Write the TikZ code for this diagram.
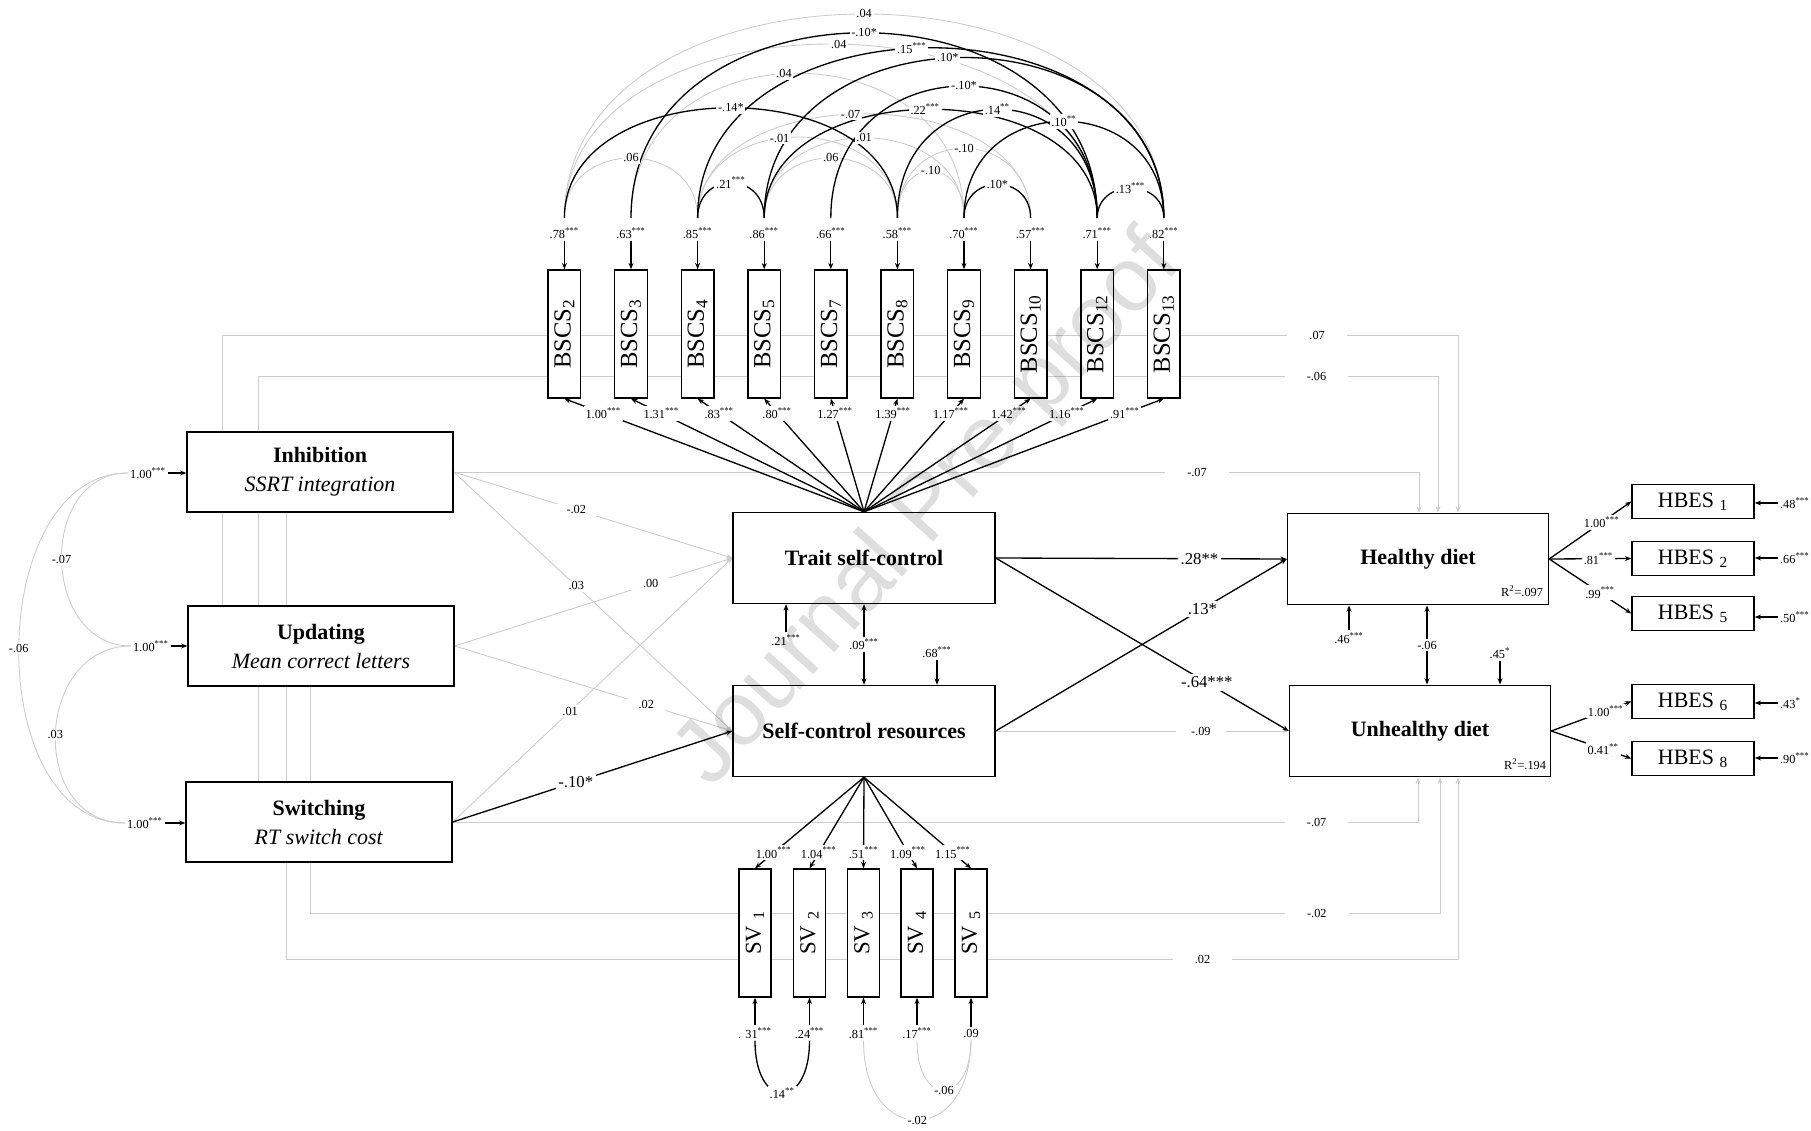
\documentclass[tikz,border=0pt]{standalone}
\usepackage{fontspec}
\setmainfont{Liberation Serif}
\newfontfamily\wmfont{Liberation Sans}
\usepackage{graphicx}
\usetikzlibrary{arrows.meta,positioning,backgrounds}

\newcommand{\sig}[1]{\textsuperscript{#1}}

\tikzset{
  >={Stealth[length=3.6pt,width=2.8pt]},
  box/.style={draw,line width=0.8pt,fill=white,inner sep=0pt,align=center,font=\fontsize{12.5}{16.5}\selectfont},
  latent/.style={box,minimum width=5.24cm,minimum height=1.82cm},
  efbox/.style={box,minimum width=5.32cm,minimum height=1.6cm},
  diet/.style={box,minimum width=5.22cm,minimum height=1.83cm},
  indic/.style={box,minimum width=0.65cm,minimum height=2.56cm,font=\fontsize{14}{16}\selectfont},
  hbes/.style={box,minimum width=2.44cm,minimum height=0.68cm},
  bline/.style={line width=0.75pt},
  gline/.style={line width=0.5pt,draw=black!20},
  slab/.style={font=\fontsize{7}{8}\selectfont,inner sep=1pt},
  wlab/.style={slab,fill=white},
  plab/.style={font=\fontsize{9.5}{11}\selectfont,fill=white,inner sep=1.5pt},
  glab/.style={wlab,inner xsep=0.44cm},
  elab/.style={wlab,inner xsep=0.24cm},
}

\begin{document}
\begin{tikzpicture}[x=0.02cm,y=-0.02cm]
\useasboundingbox (0,0) rectangle (1811,1131);

% latent variables, executive functions, diet
\node[latent] (tsc) at (864,558) {\textbf{Trait self-control}};
\node[latent] (scr) at (864,731) {\textbf{Self-control resources}};
\node[efbox] (inh) at (320,472) {\textbf{Inhibition}\\\textit{SSRT integration}};
\node[efbox] (upd) at (321,646) {\textbf{Updating}\\\textit{Mean correct letters}};
\node[efbox] (swi) at (319,822) {\textbf{Switching}\\\textit{RT switch cost}};
\node[diet] (hd) at (1418,559) {\textbf{Healthy diet}};
\node[diet] (ud) at (1420,731) {\textbf{Unhealthy diet}};
\node[slab] (r2hd) at (1522,591) {R\sig{2}=.097};
\node[slab] (r2ud) at (1525,764) {R\sig{2}=.194};

% gray paths behind the boxes
\begin{scope}[on background layer]
\draw[gline,->] (222,0 |- upd.north) -- (222,335) -- node[pos=.886,glab]{.07} (1458,335) -- (1458,0 |- hd.north);
\draw[gline,->] (258,0 |- swi.north) -- (258,376) -- node[pos=.897,glab]{-.06} (1438,376) -- (1438,0 |- hd.north);
\draw[gline,->] (inh.east) -- (1419,0 |- inh.east) node[pos=.77,glab]{-.07} -- (1419,0 |- hd.north);
\draw[gline,->] (swi.east) -- (1418,0 |- swi.east) node[pos=.895,glab]{-.07} -- (1418,0 |- ud.south);
\draw[gline,->] (310,0 |- upd.south) -- (310,913) -- node[pos=.891,glab]{-.02} (1440,913) -- (1440,0 |- ud.south);
\draw[gline,->] (286,0 |- inh.south) -- (286,959) -- node[pos=.782,glab]{.02} (1458,959) -- (1458,0 |- ud.south);
\draw[gline,->] (inh.east) -- node[pos=.44,elab]{-.02} (tsc.west);
\draw[gline,->] (inh.east) -- node[pos=.44,elab]{.03} (scr.west);
\draw[gline,->] (upd.east) -- node[pos=.706,elab]{.00} (tsc.west);
\draw[gline,->] (upd.east) -- node[pos=.69,elab]{.02} (scr.west);
\draw[gline,->] (swi.east) -- node[pos=.42,elab]{.01} (tsc.west);
\draw[gline,->] (scr.east) -- node[pos=.7,glab,inner xsep=0.3cm]{-.09} (ud.west);
\end{scope}

% structural paths
\draw[bline,->] (swi.east) -- node[pos=.44,plab]{-.10*} (scr.west);
\draw[bline,->] (tsc.east) -- node[pos=.7,plab]{.28**} (hd.west);
\draw[bline,->] (scr.east) -- node[pos=.71,plab]{.13*} (hd.west);
\draw[bline,->] (tsc.east) -- node[pos=.72,plab]{-.64***} (ud.west);

% residuals and covariances of the latent variables
\node[slab] (etsc) at (786,640) {.21\sig{***}};
\draw[bline,->] (etsc) -- (etsc |- tsc.south);
\draw[bline,<->] (tsc.south) -- node[wlab]{.09\sig{***}} (scr.north);
\node[slab] (escr) at (937,652) {.68\sig{***}};
\draw[bline,->] (escr) -- (escr |- scr.north);
\node[slab] (ehd) at (1349,638) {.46\sig{***}};
\draw[bline,->] (ehd) -- (ehd |- hd.south);
\draw[bline,<->] (1427,0 |- hd.south) -- node[wlab]{-.06} (1427,0 |- ud.north);
\node[slab] (eud) at (1500,653) {.45\sig{*}};
\draw[bline,->] (eud) -- (eud |- ud.north);

% executive function variances
\node[slab] (einh) at (148,473) {1.00\sig{***}};
\node[slab] (eupd) at (151,646) {1.00\sig{***}};
\node[slab] (eswi) at (145,823) {1.00\sig{***}};
\draw[bline,->] (einh) -- (einh -| inh.west);
\draw[bline,->] (eupd) -- (eupd -| upd.west);
\draw[bline,->] (eswi) -- (eswi -| swi.west);
\draw[gline] (einh.west) to[out=180,in=180,looseness=1.34] node[wlab]{-.07} (eupd.west);
\draw[gline] (eupd.west) to[out=180,in=180,looseness=1.4] node[wlab]{.03} (eswi.west);
\draw[gline] (einh.west) to[out=180,in=180,looseness=1.05] node[wlab]{-.06} (eswi.west);

% BSCS items
\foreach \i/\x/\ld/\rv in {2/564.4/1.00/.78,3/631/1.31/.63,4/697.6/.83/.85,5/764.2/.80/.86,7/830.8/1.27/.66,8/897.4/1.39/.58,9/964/1.17/.70,10/1030.6/1.42/.57,12/1097.2/1.16/.71,13/1163.8/.91/.82}{
  \node[indic] (b\i) at (\x,334) {\rotatebox{90}{BSCS\textsubscript{\i}}};
  \node[slab] (e\i) at (\x,233) {\rv\sig{***}};
  \coordinate (r\i) at (\x,218);
  \draw[bline,->] (e\i) -- (b\i);
  \draw[bline,->] (tsc.north) -- node[pos=.87,wlab]{\ld\sig{***}} (b\i.south);
}

% error covariances of the BSCS items
\foreach \ia/\ib/\cc/\pp/\lab in {2/13/272/.5/.04,2/12/232/.51/.04,3/9/193/.473/.04,4/10/139/.473/-.07,4/8/108/.44/-.01,5/9/107/.5/.01,2/4/80/.5/.06,5/8/80/.5/.06,8/10/93/.5/-.10,8/9/63/.5/-.10}{
  \begin{scope}[on background layer]
  \draw[gline] (r\ia) .. controls +(0,-\cc) and +(0,-\cc) .. coordinate[pos=\pp] (lab) (r\ib);
  \end{scope}
  \node[wlab] at (lab) {\lab};
}
\foreach \ia/\ib/\cc/\pp/\lab in {3/12/247/.5/-.10*,4/13/227/.473/.15\sig{***},5/13/214/.473/.10*,7/12/176/.5/-.10*,5/12/145/.489/.22\sig{***},2/8/147/.5/-.14*,8/12/145/.5/.14\sig{**},9/13/129/.5/.10\sig{**},9/10/45/.5/.10*,12/13/40/.5/.13\sig{***},4/5/47/.5/.21\sig{***}}{
  \begin{scope}[on background layer]
  \draw[bline] (r\ia) .. controls +(0,-\cc) and +(0,-\cc) .. coordinate[pos=\pp] (lab) (r\ib);
  \end{scope}
  \node[wlab] at (lab) {\lab};
}

% SV items
\foreach \n/\x/\ld/\rv in {1/755/1.00/{. 31\sig{***}},2/809.5/1.04/.24\sig{***},3/863.5/.51/.81\sig{***},4/917/1.09/.17\sig{***},5/971/1.15/.09}{
  \node[indic,minimum width=0.64cm,font=\fontsize{13}{15}\selectfont] (sv\n) at (\x,933) {\rotatebox{90}{SV \textsubscript{\n}}};
  \draw[bline,->] (scr.south) -- node[pos=.83,wlab]{\ld\sig{***}} (sv\n.north);
  \node[slab] (es\n) at (\x,1033) {\rv};
  \draw[bline,->] (es\n) -- (sv\n);
}
\draw[bline] (es1.south) .. controls +(0,70) and +(0,70) .. node[wlab]{.14\sig{**}} (es2.south);
\draw[gline] (es3.south) .. controls +(0,107) and +(0,107) .. node[wlab]{-.02} (es5.south);
\draw[gline] (es4.south) .. controls +(0,67) and +(0,67) .. node[wlab]{-.06} (es5.south);

% HBES items
\foreach \n/\y/\ry/\rv/\src/\ld/\pp in {1/501.5/503/.48\sig{***}/hd/1.00\sig{***}/.64,2/558.5/558/.66\sig{***}/hd/.81\sig{***}/.6,5/613.5/617/.50\sig{***}/hd/.99\sig{***}/.62,6/701.5/703/.43\sig{*}/ud/1.00\sig{***}/.68,8/758.5/758/.90\sig{***}/ud/0.41\sig{**}/.65}{
  \node[hbes] (h\n) at (1693,\y) {HBES \textsubscript{\n}};
  \draw[bline,->] (\src.east) -- node[pos=\pp,wlab]{\ld} (h\n.west);
  \node[slab,anchor=west] (eh\n) at (1778,\ry) {\rv};
  \draw[bline,->] (eh\n.west) -- (eh\n.west -| h\n.east);
}

% watermark
\node[rotate=48,font=\wmfont\fontsize{52}{60}\selectfont,text=black,text opacity=0.13] (wm) at (930,511) {Journal Pre-proof};
\end{tikzpicture}
\end{document}
